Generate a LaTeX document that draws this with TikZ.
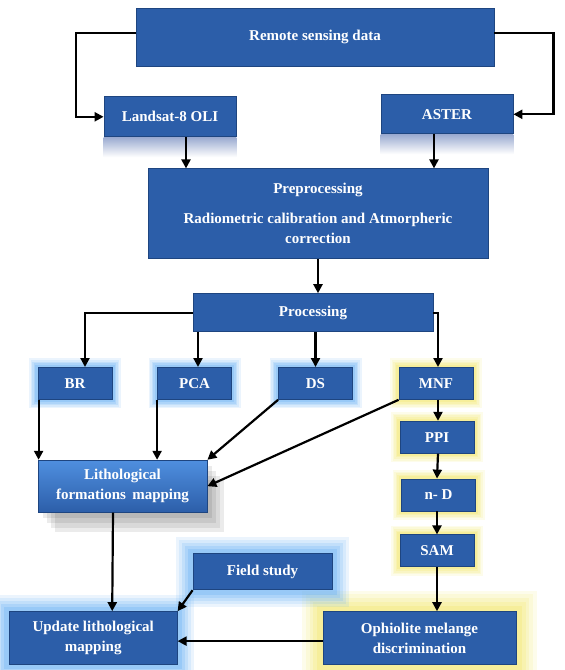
\documentclass[tikz,border=0pt]{standalone}
\usepackage{fontspec}
\setmainfont{Liberation Serif}
\usetikzlibrary{positioning, arrows.meta}

\definecolor{boxblue}{HTML}{2C5EA9}
\definecolor{boxedge}{HTML}{1E4580}
\definecolor{bevtop}{HTML}{4F8FDF}
\definecolor{glowblue}{HTML}{6FB4F4}
\definecolor{glowyellow}{HTML}{F2E873}
\definecolor{reflect}{HTML}{9AAAD0}

\begin{document}
\begin{tikzpicture}[x=1pt, y=-1pt]
		\tikzset{
			>={Triangle[length=9pt, width=9pt]},
			box/.style={fill=boxblue, draw=boxedge, line width=0.8pt, text=white, align=center, inner sep=0pt, font=\fontsize{15}{20}\selectfont\bfseries},
			smallbox/.style={box, minimum width=74pt, minimum height=32pt},
			glow/.style n args={2}{
				preaction={draw=#1, line width=#2, opacity=.14, rounded corners=#2*0.5},
				preaction={draw=#1, line width=#2*0.82, opacity=.16, rounded corners=#2*0.4},
				preaction={draw=#1, line width=#2*0.64, opacity=.2, rounded corners=#2*0.3},
				preaction={draw=#1, line width=#2*0.46, opacity=.25, rounded corners=#2*0.2},
				preaction={draw=#1, line width=#2*0.28, opacity=.35}},
			shadowed/.style={
				preaction={fill=black, opacity=.08, rounded corners=6pt, transform canvas={shift={(5pt,-6pt)}}},
				preaction={fill=black, opacity=.08, rounded corners=6pt, transform canvas={shift={(9pt,-11pt)}}},
				preaction={fill=black, opacity=.08, rounded corners=6pt, transform canvas={shift={(13pt,-16pt)}}},
				preaction={fill=black, opacity=.08, rounded corners=6pt, transform canvas={shift={(17pt,-20pt)}}}},
			flow/.style={->, line width=2.2pt}
		}
		\useasboundingbox (0,0) rectangle (565,670);
		
		% Data sources
		\node[box, minimum width=358pt, minimum height=58pt] (remote) at (315,37) {Remote sensing data};
		\node[box, minimum width=132pt, minimum height=40pt, below=30pt of remote.south west, anchor=north west, xshift=-32pt] (landsat) {Landsat-8 OLI};
		\node[box, minimum width=132pt, minimum height=39pt, below=28pt of remote.south east, anchor=north east, xshift=19pt] (aster) {ASTER};
		
		% Reflections under the sensors
		\fill[top color=reflect, bottom color=white] (landsat.south west) rectangle ([yshift=-20pt]landsat.south east);
		\fill[top color=reflect, bottom color=white] (aster.south west) rectangle ([yshift=-20pt]aster.south east);
		
		% Preprocessing and processing
		\node[box, minimum width=340pt, minimum height=90pt, below=102pt of remote, xshift=3pt] (pre) {Preprocessing\\[10pt]Radiometric calibration and Atmorpheric\\correction};
		\node[box, minimum width=240pt, minimum height=38pt, below=34pt of pre, xshift=-5pt] (proc) {Processing};
		
		% Methods
		\node[smallbox, glow={glowblue}{18pt}, below=35pt of proc, xshift=-238pt] (br) {BR};
		\node[smallbox, glow={glowblue}{18pt}, below=35pt of proc, xshift=-118.5pt] (pca) {PCA};
		\node[smallbox, glow={glowblue}{18pt}, below=35pt of proc, xshift=2.5pt] (ds) {DS};
		\node[smallbox, glow={glowyellow}{18pt}, below=35pt of proc, xshift=123pt] (mnf) {MNF};
		\node[smallbox, glow={glowyellow}{18pt}, below=21pt of mnf, xshift=1pt] (ppi) {PPI};
		\node[smallbox, glow={glowyellow}{18pt}, below=25pt of ppi, xshift=1.5pt] (nd) {n- D};
		\node[smallbox, glow={glowyellow}{18pt}, below=23pt of nd, xshift=-1.5pt] (sam) {SAM};
		
		% Results
		\node[box, shadowed, top color=bevtop, bottom color=boxblue, minimum width=169pt, minimum height=52pt, below=60pt of br.south west, anchor=north west] (litho) {Lithological\\formations\, mapping};
		\node[box, glow={glowyellow}{42pt}, minimum width=193pt, minimum height=53pt, below=44pt of sam, xshift=-17.5pt] (ophio) {Ophiolite melange\\discrimination};
		\node[box, glow={glowblue}{34pt}, minimum width=168pt, minimum height=53pt, left=145pt of ophio] (update) {Update lithological\\mapping};
		\node[box, glow={glowblue}{34pt}, minimum width=139pt, minimum height=36pt, above right=21pt and 15pt of update.north east] (field) {Field study};
		
		% Draw arrows between nodes
		\draw[flow] ([yshift=4pt]remote.west) -- ++(-60pt,0) |- (landsat.west);
		\draw[flow] ([yshift=4pt]remote.east) -- ++(59pt,0) |- (aster.east);
		\draw[flow] ([xshift=16pt]landsat.south) -- ([xshift=-132pt]pre.north);
		\draw[flow] ([xshift=-13pt]aster.south) -- ([xshift=116pt]pre.north);
		\draw[flow] (pre.south) -- (pre.south |- proc.north);
		
		\draw[flow] (proc.west) -| ([xshift=10pt]br.north);
		\draw[flow] ([xshift=-115pt]proc.south) -- ([xshift=3.5pt]pca.north);
		\draw[flow] (proc.south -| ds.north) -- (ds.north);
		\draw[flow] (proc.east) -| ([xshift=2pt]mnf.north);
		
		\draw[flow] ([xshift=1pt]br.south west) -- ([xshift=1pt]litho.north west);
		\draw[flow] (pca.south west) -- (pca.south west |- litho.north);
		\draw[flow] (ds.south west) -- (litho.north east);
		\draw[flow] (mnf.south west) -- (litho.east);
		
		\draw[flow] ([xshift=2pt]mnf.south) -- ([xshift=1pt]ppi.north);
		\draw[flow] ([xshift=1pt]ppi.south) -- (nd.north -| ppi.south);
		\draw[flow] (sam.north |- nd.south) -- (sam.north);
		\draw[flow] (sam.south) -- (sam.south |- ophio.north);
		
		\draw[flow] ([xshift=-9.5pt]litho.south) -- ([xshift=19pt]update.north);
		\draw[flow] (field.south west) -- (update.north east);
		\draw[flow] ([yshift=-3pt]ophio.west) -- ([yshift=-3pt]update.east);
		
	\end{tikzpicture}
\end{document}
